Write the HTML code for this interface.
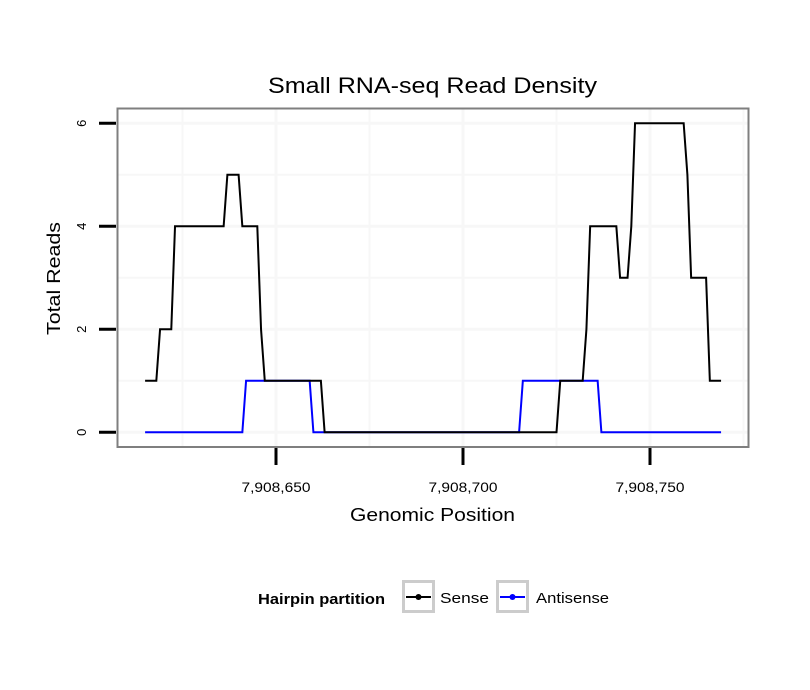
<!DOCTYPE html>
<html><head><meta charset="utf-8"><style>body{margin:0;background:#fff}svg{display:block;font-family:"Liberation Sans",Arial,sans-serif}</style></head>
<body>
<svg id="chart" width="810" height="690" viewBox="0 0 810 690">
<rect width="810" height="690" fill="#fff"/>
<text x="432.5" y="93" font-size="22" text-anchor="middle" textLength="329" lengthAdjust="spacingAndGlyphs">Small RNA-seq Read Density</text>
<g id="grid"></g>
<g id="series"></g>
<rect x="117.5" y="108.5" width="631" height="338.5" fill="none" stroke="#7f7f7f" stroke-width="2"/>
<g id="axes"></g>
<text x="432.5" y="521" font-size="18" text-anchor="middle" textLength="165" lengthAdjust="spacingAndGlyphs">Genomic Position</text>
<text transform="translate(60,278.5) rotate(-90)" font-size="18" text-anchor="middle" textLength="113" lengthAdjust="spacingAndGlyphs">Total Reads</text>
<g>
<text x="258" y="604" font-size="15" font-weight="bold" textLength="127" lengthAdjust="spacingAndGlyphs">Hairpin partition</text>
<g>
<rect x="403.5" y="581.5" width="30" height="30" fill="#fff" stroke="#cccccc" stroke-width="3"/>
<line x1="406" y1="597" x2="431" y2="597" stroke="#000" stroke-width="2"/><circle cx="418.5" cy="597" r="3" fill="#000"/>
<text x="440" y="603" font-size="15" textLength="49" lengthAdjust="spacingAndGlyphs">Sense</text></g>
<g>
<rect x="497.5" y="581.5" width="30" height="30" fill="#fff" stroke="#cccccc" stroke-width="3"/>
<line x1="500" y1="597" x2="525" y2="597" stroke="#0000ff" stroke-width="2"/><circle cx="512.5" cy="597" r="3" fill="#0000ff"/>
<text x="536" y="603" font-size="15" textLength="73" lengthAdjust="spacingAndGlyphs">Antisense</text></g>
</g>
</svg>
<script>
const startPos = 7908615;
const senseValues = [1,1,1,1,2,2,2,2,4,4,4,4,4,4,4,4,4,4,4,4,4,4,5,5,5,5,4,4,4,4,4,2,1,1,1,1,1,1,1,1,1,1,1,1,1,1,1,1,
0,0,0,0,0,0,0,0,0,0,0,0,0,0,0,0,0,0,0,0,0,0,0,0,0,0,0,0,0,0,0,0,0,0,0,0,0,0,0,0,0,0,0,0,0,0,0,0,0,0,0,0,0,0,0,0,0,0,0,0,0,0,0,
1,1,1,1,1,1,1,2,4,4,4,4,4,4,4,4,3,3,3,4,6,6,6,6,6,6,6,6,6,6,6,6,6,6,5,3,3,3,3,3,1,1,1,1];
const antisenseValues = [0,0,0,0,0,0,0,0,0,0,0,0,0,0,0,0,0,0,0,0,0,0,0,0,0,0,0,
1,1,1,1,1,1,1,1,1,1,1,1,1,1,1,1,1,1,
0,0,0,0,0,0,0,0,0,0,0,0,0,0,0,0,0,0,0,0,0,0,0,0,0,0,0,0,0,0,0,0,0,0,0,0,0,0,0,0,0,0,0,0,0,0,0,0,0,0,0,0,0,0,0,0,
1,1,1,1,1,1,1,1,1,1,1,1,1,1,1,1,1,1,1,1,1,
0,0,0,0,0,0,0,0,0,0,0,0,0,0,0,0,0,0,0,0,0,0,0,0,0,0,0,0,0,0,0,0,0];
const xTicks = [7908650, 7908700, 7908750];
const xMinorTicks = [7908625, 7908675, 7908725, 7908775];
const yTicks = [0, 2, 4, 6];
const yMinorTicks = [1, 3, 5];

const NS = "http://www.w3.org/2000/svg";
function X(p){ return 276 + (p - 7908650) * 3.74; }
function Y(v){ return 432.3 - v * 51.5; }
function mk(tag, attrs, parent){ const e=document.createElementNS(NS,tag); for(const k in attrs) e.setAttribute(k,attrs[k]); parent.appendChild(e); return e; }
const grid=document.getElementById('grid'), axes=document.getElementById('axes'), series=document.getElementById('series');
xTicks.concat(xMinorTicks).forEach(p=>{ const x=X(p); if(x>118&&x<748){
  const l=mk('line',{x1:x,x2:x,y1:109,y2:446,stroke:'#f7f7f7','stroke-width':xTicks.includes(p)?3:2},grid);
   }});
yTicks.concat(yMinorTicks).forEach(v=>{ const y=Y(v);
  const l=mk('line',{x1:118,x2:748,y1:y,y2:y,stroke:'#f7f7f7','stroke-width':yTicks.includes(v)?3:2},grid);
   });
xTicks.forEach(p=>{ const x=X(p);
  const t=mk('line',{x1:x,x2:x,y1:448,y2:465,stroke:'#000','stroke-width':3},axes);
   
  const tx=mk('text',{x:x,y:492,'font-size':14,'text-anchor':'middle',textLength:69,lengthAdjust:'spacingAndGlyphs'},axes);
  tx.textContent=p.toLocaleString('en-US');
   });
yTicks.forEach(v=>{ const y=Y(v);
  const t=mk('line',{x1:99,x2:116,y1:y,y2:y,stroke:'#000','stroke-width':3},axes);
   
  const tx=mk('text',{'font-size':13,'text-anchor':'middle',transform:`translate(86,${y}) rotate(-90)`},axes);
  tx.textContent=v;
   });
function draw(vals,color,name){
  const pts=vals.map((v,i)=>X(startPos+i).toFixed(2)+','+Y(v).toFixed(2)).join(' ');
  const pl=mk('polyline',{points:pts,fill:'none',stroke:color,'stroke-width':2,'stroke-linejoin':'miter'},series);
   
}
draw(antisenseValues,'#0000ff','antisense-line');
draw(senseValues,'#000000','sense-line');
</script>
</body></html>
